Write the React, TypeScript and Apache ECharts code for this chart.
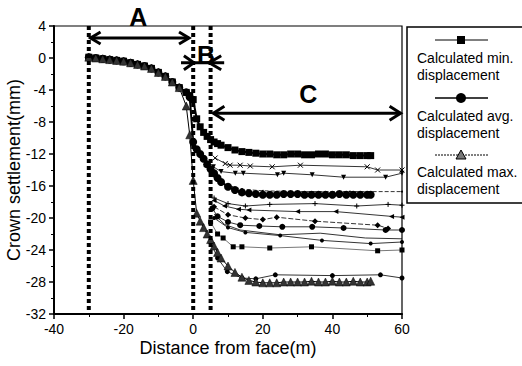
import React, { useEffect, useRef } from 'react';
import * as echarts from 'echarts';

// ---------- data ----------
const calcX = [-30, -28, -26, -24, -22, -20, -18, -16, -14, -12, -10, -8, -6, -4, -2, -1, 0, 1, 2, 3, 4, 5, 6, 7, 8, 10, 12, 14, 16, 18, 20, 22, 24, 26, 28, 30, 32, 34, 36, 38, 40, 42, 44, 46, 48, 50, 51];
const calcMin = [0.1, 0.0, -0.1, -0.2, -0.3, -0.4, -0.6, -0.8, -1.0, -1.3, -1.8, -2.3, -3.0, -3.7, -4.3, -4.7, -5.2, -7.6, -8.6, -9.3, -9.8, -10.2, -10.5, -10.7, -10.9, -11.2, -11.5, -11.7, -11.8, -11.9, -12.0, -12.0, -12.1, -12.1, -12.0, -12.0, -12.1, -12.1, -12.0, -12.0, -12.1, -12.1, -12.1, -12.2, -12.2, -12.2, -12.2];
const calcAvg = [0.1, 0.0, -0.1, -0.2, -0.3, -0.4, -0.6, -0.8, -1.0, -1.3, -1.8, -2.3, -3.0, -3.7, -4.3, -4.9, -10.5, -11.4, -12.0, -12.6, -13.3, -13.9, -14.4, -15.0, -15.5, -16.1, -16.5, -16.8, -16.9, -17.0, -17.1, -17.1, -17.1, -17.0, -17.0, -17.0, -17.1, -17.1, -17.1, -17.1, -17.1, -17.0, -17.1, -17.1, -17.1, -17.1, -17.1];
const calcMax = [0.1, 0.0, -0.1, -0.2, -0.3, -0.4, -0.6, -0.8, -1.0, -1.3, -1.8, -2.3, -3.0, -3.7, -6.0, -9.6, -15.3, -19.4, -20.4, -21.2, -22.0, -22.7, -23.5, -24.3, -25.0, -26.0, -26.8, -27.4, -27.8, -28.0, -28.1, -28.1, -28.1, -28.0, -28.0, -28.0, -28.0, -27.9, -28.0, -28.0, -27.9, -28.0, -28.0, -27.9, -28.0, -28.0, -27.9];

const m1X = [6.3, 9.2, 10.6, 13.5, 16.4, 22.7, 30.8, 50, 53, 60];
const m1Y = [-12.5, -13.2, -13.4, -13.4, -13.5, -13.6, -13.4, -13.6, -14.0, -14.0];
const m2X = [5.8, 8, 12.1, 14.4, 24.2, 26, 34.2, 43.2, 55.3, 60];
const m2Y = [-13.6, -14.2, -14.4, -14.4, -14.6, -14.4, -14.6, -14.9, -14.9, -14.4];
const m3X = [6, 9, 14, 20, 30, 45, 60];
const m3Y = [-14.8, -15.8, -16.4, -16.6, -16.7, -16.7, -16.7];
const m4X = [6, 10, 15, 22, 35, 47, 56, 60];
const m4Y = [-17.5, -18.2, -18.5, -18.3, -18.2, -18.5, -18.3, -18.4];
const m5X = [6, 9, 13, 16, 30, 41, 57, 60];
const m5Y = [-17.8, -18.5, -18.9, -19.0, -19.2, -19.2, -19.8, -19.9];
const m6X = [6, 10, 15, 20, 24, 35, 53, 56];
const m6Y = [-18.6, -19.6, -20.0, -20.2, -19.9, -20.4, -20.9, -21.3];
const m7X = [5.5, 7, 10, 13.5, 19, 25.6, 34.2, 43.2, 55.3, 60];
const m7Y = [-18.8, -19.8, -20.5, -20.9, -21.0, -21.1, -21.1, -21.25, -21.5, -21.5];
const m8X = [6, 9, 13.5, 25, 36.5, 49.5, 60];
const m8Y = [-19.5, -20.8, -21.5, -22.1, -21.9, -22.5, -22.6];
const m9X = [6, 10, 15, 25, 37, 51, 60];
const m9Y = [-20.0, -21.2, -21.8, -22.2, -22.8, -23.2, -23.0];
const m10X = [5, 7, 8.6, 11.5, 14, 22, 34, 53, 60];
const m10Y = [-20.5, -22.0, -22.5, -23.6, -23.6, -23.75, -23.6, -24.1, -24.0];
const m11X = [5, 7, 9.8, 14, 18, 23.6, 40, 53.8, 60];
const m11Y = [-23.0, -25.0, -26.7, -27.5, -27.6, -27.1, -27.2, -27.1, -27.5];

const zoneX = [-30, 0, 5];
const legendLabels = ['Calculated min.', 'Calculated avg.', 'Calculated max.'];
const legendSub = 'displacement';

const FONT = '"Liberation Sans", Arial, sans-serif';

const pairs = (xs: number[], ys: number[]) => xs.map((x, i) => [x, ys[i]]);

export default function App() {
  const ref = useRef<HTMLDivElement>(null);
  useEffect(() => {
    const chart = echarts.init(ref.current!, null, { renderer: 'svg' });

    const measured = (xs: number[], ys: number[], symbol: string, opts: any = {}) => ({
      type: 'line',
      data: pairs(xs, ys),
      symbol,
      symbolSize: opts.size ?? 5,
      symbolRotate: opts.rotate ?? 0,
      lineStyle: { color: opts.color ?? '#000', width: 0.8, type: opts.dash ?? 'solid' },
      itemStyle: { color: '#000', borderColor: '#000', borderWidth: opts.bw ?? 0 },
      z: 3,
    });

    const series: any[] = [
      measured(m1X, m1Y, 'path://M0,0L10,10M10,0L0,10', { bw: 1, size: 5 }),
      measured(m2X, m2Y, 'triangle', { rotate: 180 }),
      measured(m3X, m3Y, 'circle', { size: 2, dash: [4, 2] }),
      measured(m4X, m4Y, 'path://M5,0L5,10M0,5L10,5', { bw: 1, size: 5 }),
      measured(m5X, m5Y, 'triangle', { rotate: 90 }),
      measured(m6X, m6Y, 'diamond', { size: 6, dash: [5, 2] }),
      measured(m7X, m7Y, 'circle', { size: 6 }),
      measured(m8X, m8Y, 'path://M5,0L5,10', { bw: 1, size: 5 }),
      measured(m9X, m9Y, 'circle', { size: 4 }),
      measured(m10X, m10Y, 'rect', { size: 5, color: '#555' }),
      measured(m11X, m11Y, 'circle', { size: 5 }),
      {
        type: 'line', name: 'min', data: pairs(calcX, calcMin), symbol: 'rect', symbolSize: 7,
        lineStyle: { color: '#000', width: 2 }, itemStyle: { color: '#000' }, z: 4,
      },
      {
        type: 'line', name: 'avg', data: pairs(calcX, calcAvg), symbol: 'circle', symbolSize: 8,
        lineStyle: { color: '#000', width: 2 }, itemStyle: { color: '#000' }, z: 4,
      },
      {
        type: 'line', name: 'max', data: pairs(calcX, calcMax), symbol: 'triangle', symbolSize: 8,
        lineStyle: { color: '#000', width: 1 }, itemStyle: { color: '#333', borderColor: '#000', borderWidth: 0.5 }, z: 4,
      },
      ...zoneX.map((x) => ({
        type: 'line', data: [[x, 4], [x, -32]], symbol: 'none', silent: true,
        lineStyle: { color: '#000', width: 4, type: [4, 3], cap: 'butt' }, z: 6,
      })),
    ];

    chart.setOption({
      animation: false,
      backgroundColor: '#fff',
      grid: { left: 54, right: 120, top: 26, bottom: 52, show: true, borderColor: '#000', borderWidth: 1.2, outerBoundsMode: 'none', containLabel: false },
      xAxis: {
        type: 'value', min: -40, max: 60, interval: 20,
        name: 'Distance from face(m)', nameLocation: 'middle', nameGap: 25, nameMoveOverlap: false,
        nameTextStyle: { fontFamily: FONT, fontSize: 18, color: '#000' },
        axisLine: { show: true, onZero: false, lineStyle: { color: '#000', width: 2 } },
        axisTick: { show: true, inside: false, length: 5, lineStyle: { color: '#000', width: 1.5 } },
        minorTick: { show: true, splitNumber: 2, length: 3, lineStyle: { color: '#000', width: 1 } },
        axisLabel: { fontFamily: FONT, fontSize: 14, color: '#000', margin: 8 },
        splitLine: { show: false },
      },
      yAxis: {
        type: 'value', min: -32, max: 4, interval: 4,
        name: 'Crown settlement(mm)', nameLocation: 'middle', nameGap: 31, nameMoveOverlap: false,
        nameTextStyle: { fontFamily: FONT, fontSize: 18, color: '#000' },
        axisLine: { show: true, onZero: false, lineStyle: { color: '#000', width: 2 } },
        axisTick: { show: true, inside: false, length: 5, lineStyle: { color: '#000', width: 1.5 } },
        minorTick: { show: true, splitNumber: 2, length: 3, lineStyle: { color: '#000', width: 1 } },
        axisLabel: { fontFamily: FONT, fontSize: 14, color: '#000', margin: 8 },
        splitLine: { show: false },
      },
      series,
    });

    const P = (x: number, y: number) => chart.convertToPixel({ gridIndex: 0 }, [x, y]) as number[];
    const stroke = { stroke: '#000', lineWidth: 3, fill: 'none' };

    const g: any[] = [];
    // Arrow A
    const a1 = P(-29.5, 2.5), a2 = P(-1.2, 2.5);
    g.push({ type: 'line', shape: { x1: a1[0], y1: a1[1], x2: a2[0], y2: a2[1] }, style: stroke });
    g.push({ type: 'polyline', shape: { points: [[a1[0] + 10, a1[1] - 6], [a1[0], a1[1]], [a1[0] + 10, a1[1] + 6]] }, style: stroke });
    g.push({ type: 'polyline', shape: { points: [[a2[0] - 10, a2[1] - 6], [a2[0], a2[1]], [a2[0] - 10, a2[1] + 6]] }, style: stroke });
    // Arrow C
    const c1 = P(5.8, -6.9), c2 = P(59.6, -6.9);
    g.push({ type: 'line', shape: { x1: c1[0], y1: c1[1], x2: c2[0], y2: c2[1] }, style: stroke });
    g.push({ type: 'polyline', shape: { points: [[c1[0] + 11, c1[1] - 7], [c1[0], c1[1]], [c1[0] + 11, c1[1] + 7]] }, style: stroke });
    g.push({ type: 'polyline', shape: { points: [[c2[0] - 11, c2[1] - 7], [c2[0], c2[1]], [c2[0] - 11, c2[1] + 7]] }, style: stroke });
    // Arrow B (dimension heads from outside)
    const b1 = P(-3.5, -0.6), b2 = P(8.9, -0.6), bt1 = P(0.2, -0.6), bt2 = P(4.6, -0.6);
    g.push({ type: 'line', shape: { x1: b1[0], y1: b1[1], x2: b2[0], y2: b2[1] }, style: stroke });
    g.push({ type: 'polyline', shape: { points: [[bt1[0] - 10, bt1[1] - 7], [bt1[0], bt1[1]], [bt1[0] - 10, bt1[1] + 7]] }, style: stroke });
    g.push({ type: 'polyline', shape: { points: [[bt2[0] + 12, bt2[1] - 7], [bt2[0], bt2[1]], [bt2[0] + 12, bt2[1] + 7]] }, style: stroke });
    // Letters
    const letter = (t: string, p: number[]) => ({
      type: 'text', x: p[0], y: p[1], z: 20,
      style: { text: t, font: `bold 25px ${FONT}`, fill: '#000', align: 'center', verticalAlign: 'middle' },
    });
    g.push(letter('A', P(-15.8, 5.1)));
    g.push(letter('B', P(3.7, 0.4)));
    g.push(letter('C', P(33.1, -4.5)));

    // Legend box
    g.push({ type: 'rect', shape: { x: 407, y: 27, width: 130, height: 176 }, style: { stroke: '#000', lineWidth: 1.5, fill: '#fff' }, z: 10 });
    const symY = [40, 98, 155];
    const txtY = [58, 116, 172];
    symY.forEach((y, i) => {
      g.push({ type: 'line', shape: { x1: 435, y1: y, x2: 488, y2: y }, style: { stroke: '#000', lineWidth: i === 1 ? 1.6 : 1, lineDash: i === 2 ? [2, 1] : null }, z: 11 });
      g.push({ type: 'text', x: 417, y: txtY[i], z: 11, style: { text: legendLabels[i], font: `14px ${FONT}`, fill: '#000', verticalAlign: 'middle' } });
      g.push({ type: 'text', x: 417, y: txtY[i] + 17, z: 11, style: { text: legendSub, font: `14px ${FONT}`, fill: '#000', verticalAlign: 'middle' } });
    });
    g.push({ type: 'rect', shape: { x: 457, y: 36, width: 8, height: 8 }, style: { fill: '#000' }, z: 12 });
    g.push({ type: 'circle', shape: { cx: 461, cy: 98, r: 5 }, style: { fill: '#000' }, z: 12 });
    g.push({ type: 'polygon', shape: { points: [[461, 150], [456, 159], [466, 159]] }, style: { fill: '#777', stroke: '#000', lineWidth: 1 }, z: 12 });

    chart.setOption({ graphic: g });
    return () => chart.dispose();
  }, []);
  return <div ref={ref} style={{ position: 'absolute', left: 0, top: 0, width: 522, height: 366 }} />;
}
